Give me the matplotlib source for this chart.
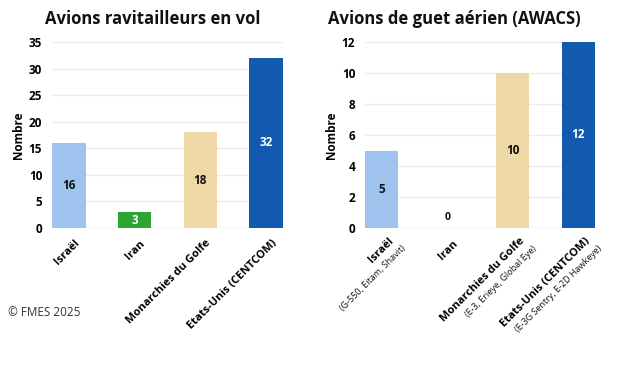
import matplotlib
matplotlib.use("Agg")
import matplotlib.pyplot as plt
import numpy as np

# Data
categories_left = ["Israël", "Iran", "Monarchies du Golfe", "Etats-Unis (CENTCOM)"]
values_left = [16, 3, 18, 32]
categories_right = ["Israël", "Iran", "Monarchies du Golfe", "Etats-Unis (CENTCOM)"]
subtitles_right = ["(G-550, Eitam, Shavit)", "", "(E-3, Erieye, Global Eye)", "(E-3G Sentry, E-2D Hawkeye)"]
values_right = [5, 0, 10, 12]
yticks_left = [0, 5, 10, 15, 20, 25, 30, 35]
yticks_right = [0, 2, 4, 6, 8, 10, 12]

colors = ["#9dc3ee", "#2ca532", "#eed9a6", "#1259b0"]
label_colors = ["#111111", "white", "#111111", "white"]

plt.rcParams['font.family'] = ['Open Sans', 'DejaVu Sans']

W, H = 617, 376
fig = plt.figure(figsize=(W / 100, H / 100), dpi=100)
fig.patch.set_facecolor("white")


def px_axes(x0, x1, y0, y1):
    return fig.add_axes([x0 / W, 1 - y1 / H, (x1 - x0) / W, (y1 - y0) / H])


def style_axes(ax, yticks, ylim):
    for s in ax.spines.values():
        s.set_visible(False)
    ax.set_ylim(*ylim)
    ax.set_yticks(yticks)
    ax.set_yticklabels([str(t) for t in yticks], fontsize=8.5, fontweight="bold")
    ax.tick_params(axis="y", length=0, pad=7)
    ax.tick_params(axis="x", length=0)
    ax.yaxis.grid(True, color="#ececec", linewidth=0.9)
    ax.set_axisbelow(True)
    ax.axhline(0, color="#dddddd", linewidth=1.0, zorder=1)
    ax.set_ylabel("Nombre", fontsize=8.5, fontweight="bold", labelpad=3)


width = 0.51
xl = (-width / 2, 3 + width / 2)
MAIN_OFF = (6.5, -10)     # points

# Left chart
ax1 = px_axes(52, 283, 42, 228)
x = np.arange(len(categories_left))
ax1.bar(x, values_left, width=width, color=colors, zorder=2)
ax1.set_xlim(*xl)
style_axes(ax1, yticks_left, (0, 35))
ax1.set_xticks(x)
ax1.set_xticklabels([])
for i, v in enumerate(values_left):
    ax1.text(i, v / 2, str(v), ha="center", va="center", fontsize=8.5,
             fontweight="bold", color=label_colors[i], zorder=3)
    ax1.annotate(categories_left[i], xy=(i, 0), xycoords="data",
                 xytext=MAIN_OFF, textcoords="offset points",
                 rotation=45, rotation_mode="anchor", ha="right", va="center",
                 fontsize=8, fontweight="bold", annotation_clip=False)

# Right chart
ax2 = px_axes(365, 595, 42, 228)
x = np.arange(len(categories_right))
ax2.bar(x, values_right, width=width, color=colors, zorder=2)
ax2.set_xlim(*xl)
style_axes(ax2, yticks_right, (0, 12))
ax2.set_xticks(x)
ax2.set_xticklabels([])
for i, v in enumerate(values_right):
    ypos = v / 2 if v > 0 else 0.7
    ax2.text(i, ypos, str(v), ha="center", va="center", fontsize=8.5 if v > 0 else 7.5,
             fontweight="bold", color=label_colors[i] if v > 0 else "#111111", zorder=3)
    main_off = MAIN_OFF if not subtitles_right[i] else (MAIN_OFF[0] + 1, MAIN_OFF[1] + 2)
    ax2.annotate(categories_right[i], xy=(i, 0), xycoords="data",
                 xytext=main_off, textcoords="offset points",
                 rotation=45, rotation_mode="anchor", ha="right", va="center",
                 fontsize=8, fontweight="bold", annotation_clip=False)
    if subtitles_right[i]:
        ax2.annotate(subtitles_right[i], xy=(i, 0), xycoords="data",
                     xytext=(main_off[0] + 8.6, main_off[1] - 5.6),
                     textcoords="offset points",
                     rotation=45, rotation_mode="anchor", ha="right", va="center",
                     fontsize=6.5, color="#111111", annotation_clip=False)

# Titles
fig.text(153 / W, 1 - 19 / H, "Avions ravitailleurs en vol", ha="center", va="center",
         fontsize=12, fontweight="bold", color="#111111")
fig.text(454 / W, 1 - 19 / H, "Avions de guet aérien (AWACS)", ha="center", va="center",
         fontsize=12, fontweight="bold", color="#111111")

# Copyright
fig.text(8 / W, 1 - 312 / H, "© FMES 2025", ha="left", va="center", fontsize=8.5,
         color="#333333")

fig.savefig("out.png", dpi=100, facecolor="white")
